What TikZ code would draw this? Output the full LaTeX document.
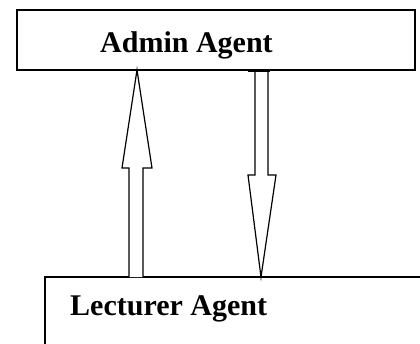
\documentclass[tikz,border=0pt]{standalone}
\usepackage{fontspec}
\setmainfont{Liberation Serif}
\begin{document}
\begin{tikzpicture}[x=1pt,y=-1pt,
  box/.style={draw, line width=1.3pt, inner sep=0pt, outer sep=0pt},
  lbl/.style={font=\bfseries\fontsize{30}{36}\selectfont, anchor=base west, inner sep=0pt},
  blockarrow/.style={draw, line width=1.2pt, fill=white, line join=miter}]
\useasboundingbox (0,0) rectangle (420,343);
% agent boxes
\node[box, minimum width=398pt, minimum height=60pt] (admin) at (216,40) {};
\node[box, minimum width=400pt, minimum height=90pt, anchor=north west] (lecturer) at (45,277) {};
% labels
\node[lbl] (admintext) at (100,52) {Admin Agent};
\node[lbl] (lecturertext) at (70,315) {Lecturer Agent};
% upward block arrow: lecturer -> admin
\draw[blockarrow] (129,0 |- lecturer.north) -- (129,168) -- (122,168)
  -- (137,0 |- admin.south) -- (152,168) -- (143,168) -- (143,0 |- lecturer.north);
% downward block arrow: admin -> lecturer
\draw[blockarrow] (255,0 |- admin.south) -- (255,175) -- (248,175)
  -- (261,0 |- lecturer.north) -- (276,175) -- (268,175) -- (268,0 |- admin.south);
\draw[line width=2pt] (248,0 |- admin.south) ++(0,1) -- ++(22,0);
\end{tikzpicture}
\end{document}
